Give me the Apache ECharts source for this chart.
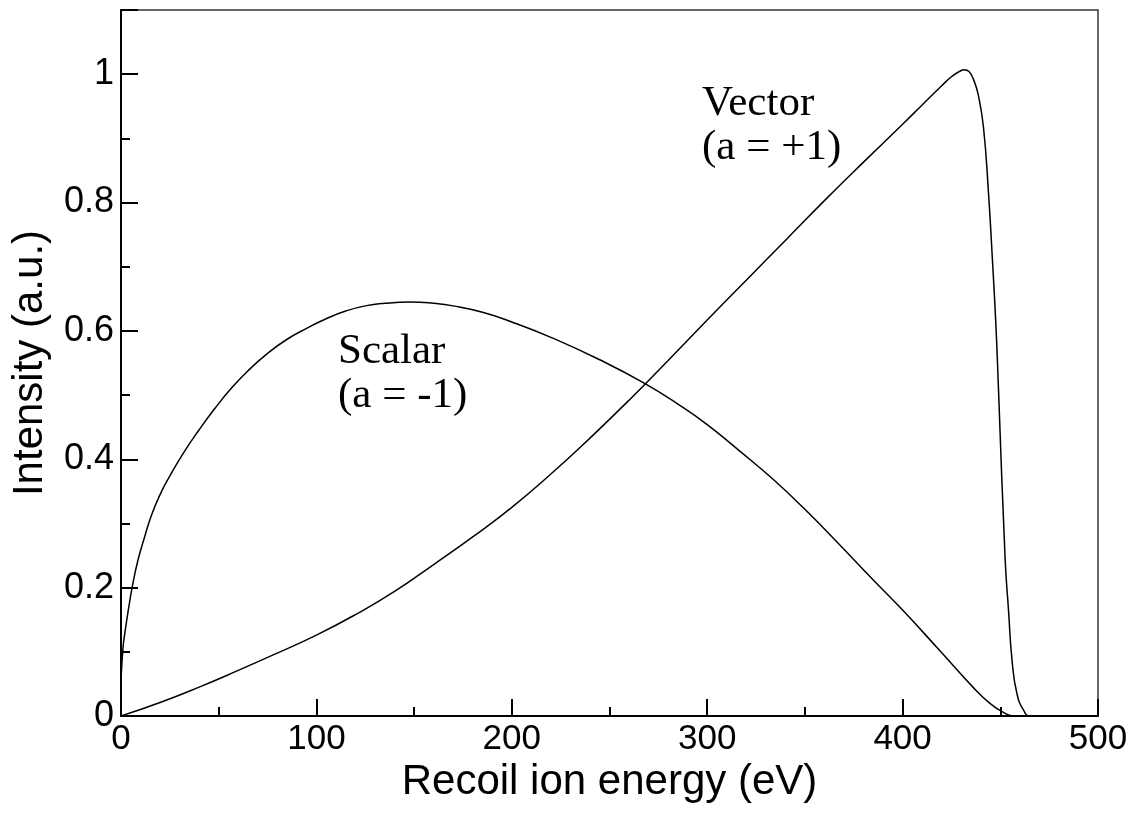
<!DOCTYPE html>
<html>
<head>
<meta charset="utf-8">
<script src="https://cdn.jsdelivr.net/npm/echarts@6/dist/echarts.min.js"></script>
<style>
  html, body { margin: 0; padding: 0; background: #fff; }
  #chart { width: 1136px; height: 816px; }
</style>
</head>
<body>
<div id="chart"></div>
<script>
// energies (eV) and intensities
var scalarE = [0, 1, 2, 4, 6, 8.7, 12, 15.5, 20, 25, 32, 40, 48, 56, 65, 75, 85, 95, 105, 115, 125, 135, 148, 160, 170, 185, 200, 220, 245, 267.5, 285, 300, 317, 334, 350, 368, 385, 400, 419, 436, 445, 452, 457, 500];
var scalarI = [0.056, 0.105, 0.13, 0.170, 0.205, 0.243, 0.278, 0.312, 0.345, 0.374, 0.410, 0.446, 0.479, 0.509, 0.538, 0.565, 0.587, 0.604, 0.619, 0.631, 0.639, 0.643, 0.645, 0.643, 0.639, 0.629, 0.614, 0.590, 0.555, 0.519, 0.486, 0.454, 0.412, 0.368, 0.322, 0.266, 0.212, 0.165, 0.102, 0.045, 0.019, 0.005, 0, 0];

var vectorE = [0, 20, 40, 60, 80, 100, 120, 140, 160, 180, 200, 220, 240, 260, 280, 300, 320, 340, 360, 380, 400, 410, 420, 425, 429, 431.5, 434, 436.5, 438.7, 441.4, 444, 446, 447.8, 449.1, 452.5, 454.2, 456, 458.5, 461.9, 465.3, 500];
var vectorI = [0, 0.021, 0.045, 0.071, 0.098, 0.126, 0.158, 0.194, 0.236, 0.279, 0.325, 0.377, 0.433, 0.492, 0.554, 0.617, 0.679, 0.741, 0.803, 0.863, 0.922, 0.952, 0.982, 0.996, 1.004, 1.007, 1.004, 0.990, 0.968, 0.917, 0.813, 0.709, 0.606, 0.507, 0.243, 0.165, 0.087, 0.035, 0.009, 0, 0];

// tick values
var xTicks = [0, 100, 200, 300, 400, 500];
var yMajor = [0, 0.2, 0.4, 0.6, 0.8, 1.0];

function pairs(xs, ys) {
    var out = [];
    for (var i = 0; i < xs.length; i++) out.push([xs[i], ys[i]]);
    return out;
}

var sans = "'Liberation Sans', Arial, sans-serif";
var serif = "'Liberation Serif', 'Times New Roman', serif";

var myChart = echarts.init(document.getElementById('chart'));

var option = {
    backgroundColor: '#fff',
    animation: false,
    grid: {
        left: 121, top: 10, width: 977, height: 706,
        show: true, borderColor: '#333', borderWidth: 1.5
    },
    xAxis: {
        type: 'value',
        min: xTicks[0], max: xTicks[xTicks.length - 1], interval: 100,
        name: 'Recoil ion energy (eV)',
        nameLocation: 'middle', nameGap: 36,
        nameTextStyle: { fontFamily: sans, fontSize: 42, color: '#000' },
        axisLine: { lineStyle: { color: '#000', width: 2 } },
        axisTick: { inside: true, length: 17, lineStyle: { color: '#000', width: 2 } },
        minorTick: { show: true, splitNumber: 2, length: 9, lineStyle: { color: '#000', width: 2 } },
        axisLabel: { fontFamily: sans, fontSize: 35, color: '#000', margin: 6 },
        splitLine: { show: false }
    },
    yAxis: [{
        type: 'value',
        min: 0, max: 1.1, interval: 0.2,
        name: 'Intensity (a.u.)',
        nameLocation: 'middle', nameGap: 70,
        nameTextStyle: { fontFamily: sans, fontSize: 42, color: '#000' },
        axisLine: { show: true, lineStyle: { color: '#000', width: 2 } },
        axisTick: { inside: true, length: 17, lineStyle: { color: '#000', width: 2 } },
        axisLabel: {
            fontFamily: sans, fontSize: 36, color: '#000', margin: 7,
            formatter: function (v) {
                var r = Math.round(v * 10) / 10;
                return yMajor.indexOf(r) >= 0 ? String(r) : '';
            }
        },
        splitLine: { show: false }
    }, {
        // minor ticks every 0.1
        type: 'value', position: 'left',
        min: 0, max: 1.1, interval: 0.1,
        axisLine: { show: false },
        axisTick: { inside: true, length: 9, lineStyle: { color: '#000', width: 2 } },
        axisLabel: { show: false },
        splitLine: { show: false }
    }],
    series: [{
        name: 'Scalar',
        type: 'line',
        data: pairs(scalarE, scalarI),
        smooth: 0.5,
        showSymbol: false,
        lineStyle: { color: '#000', width: 1.5 }
    }, {
        name: 'Vector',
        type: 'line',
        data: pairs(vectorE, vectorI),
        smooth: 0.5,
        showSymbol: false,
        lineStyle: { color: '#000', width: 1.5 }
    }],
    graphic: [{
        type: 'text', left: 338, top: 330,
        style: { text: 'Scalar\n(a = -1)', font: '43px ' + serif, fill: '#000', lineHeight: 44 }
    }, {
        type: 'text', left: 702, top: 82,
        style: { text: 'Vector\n(a = +1)', font: '43px ' + serif, fill: '#000', lineHeight: 44 }
    }]
};

myChart.setOption(option);
</script>
</body>
</html>
